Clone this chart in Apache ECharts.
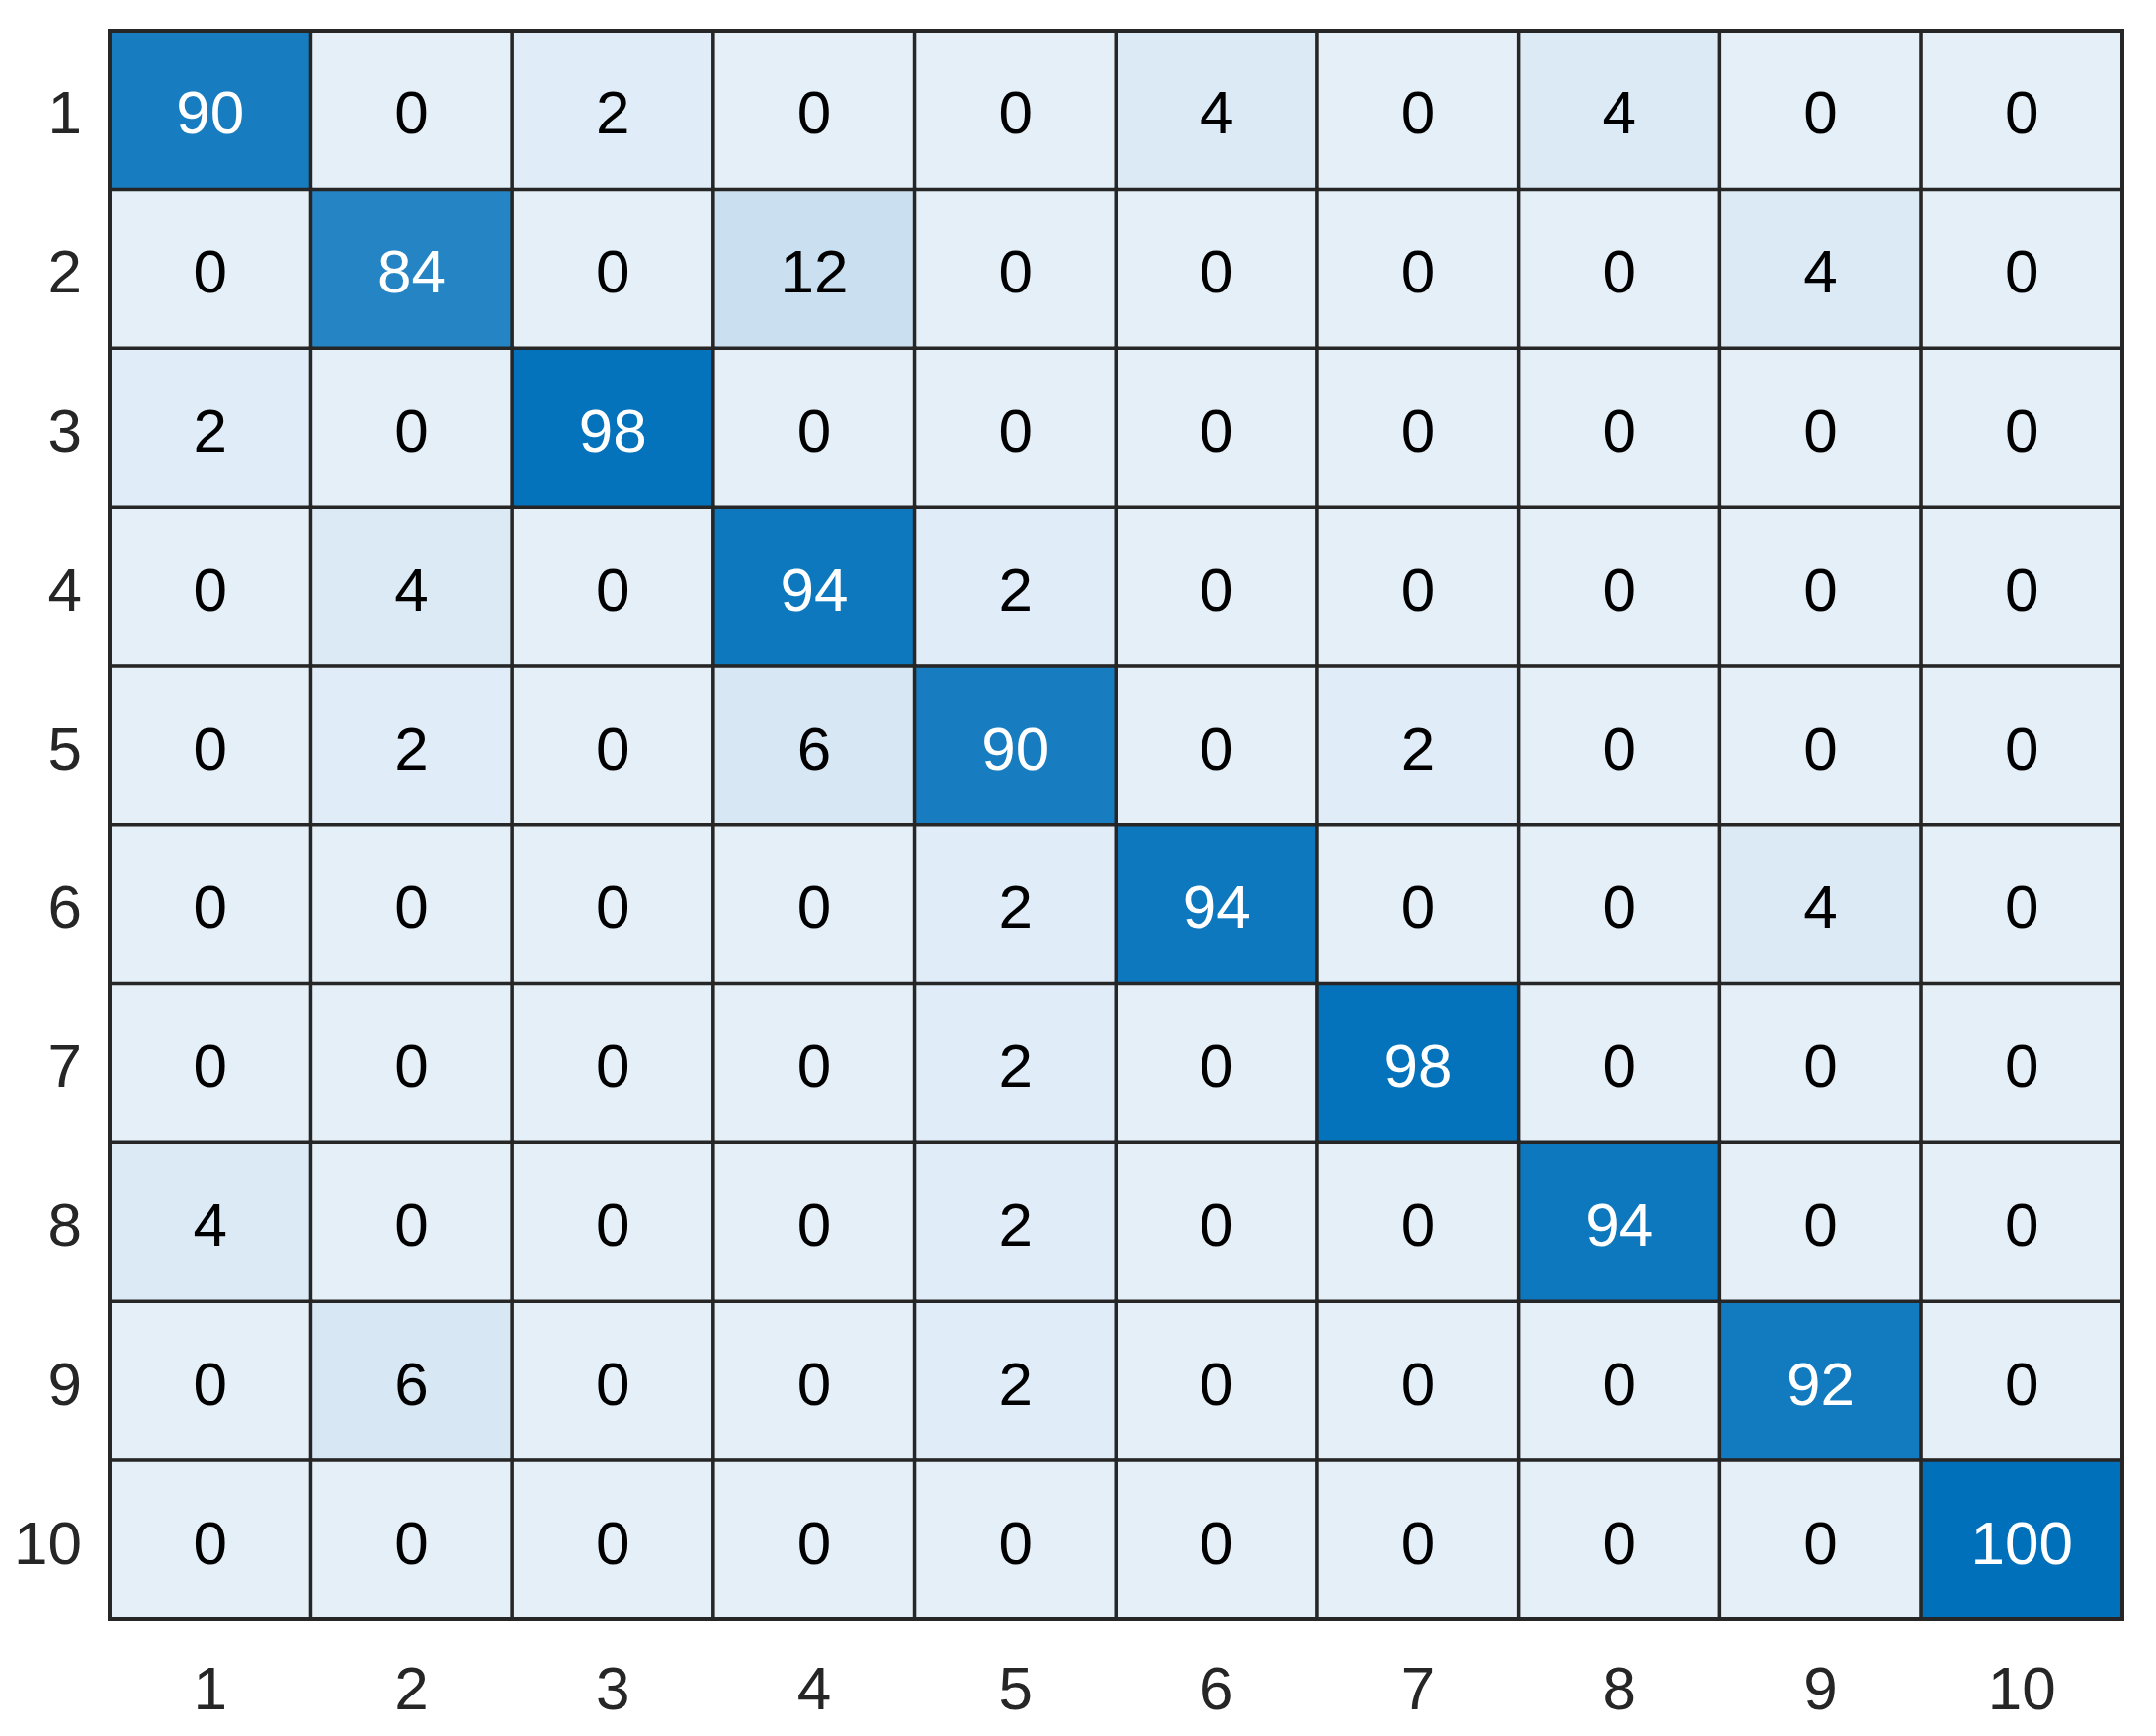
<!DOCTYPE html>
<html>
<head>
<meta charset="utf-8">
<script src="https://cdn.jsdelivr.net/npm/echarts@6/dist/echarts.min.js"></script>
<style>
html,body{margin:0;padding:0;background:#fff;}
#chart{width:2182px;height:1757px;}
</style>
</head>
<body>
<div id="chart"></div>
<script>
const xLabels = ['1','2','3','4','5','6','7','8','9','10'];
const yLabels = ['1','2','3','4','5','6','7','8','9','10'];
const row1  = [90, 0, 2, 0, 0, 4, 0, 4, 0, 0];
const row2  = [0, 84, 0, 12, 0, 0, 0, 0, 4, 0];
const row3  = [2, 0, 98, 0, 0, 0, 0, 0, 0, 0];
const row4  = [0, 4, 0, 94, 2, 0, 0, 0, 0, 0];
const row5  = [0, 2, 0, 6, 90, 0, 2, 0, 0, 0];
const row6  = [0, 0, 0, 0, 2, 94, 0, 0, 4, 0];
const row7  = [0, 0, 0, 0, 2, 0, 98, 0, 0, 0];
const row8  = [4, 0, 0, 0, 2, 0, 0, 94, 0, 0];
const row9  = [0, 6, 0, 0, 2, 0, 0, 0, 92, 0];
const row10 = [0, 0, 0, 0, 0, 0, 0, 0, 0, 100];
const rows = [row1,row2,row3,row4,row5,row6,row7,row8,row9,row10];

const data = [];
rows.forEach((r, yi) => r.forEach((v, xi) => {
  data.push({value: [xi, yi, v], label: {color: v > 50 ? '#ffffff' : '#000000'}});
}));

const FONT = '"Liberation Sans", Arial, sans-serif';
const chart = echarts.init(document.getElementById('chart'), null, {renderer: 'canvas'});
chart.setOption({
  backgroundColor: '#ffffff',
  animation: false,
  grid: {left: 111, top: 31, width: 2037, height: 1608, show: true, borderColor: '#262626', borderWidth: 4, backgroundColor: 'transparent', z: 10},
  xAxis: {
    type: 'category', data: xLabels, position: 'bottom',
    axisLine: {show: false}, axisTick: {show: false}, splitLine: {show: false},
    axisLabel: {fontFamily: FONT, fontSize: 62, color: '#262626', margin: 74, verticalAlign: 'middle'}
  },
  yAxis: {
    type: 'category', data: yLabels, inverse: true,
    axisLine: {show: false}, axisTick: {show: false}, splitLine: {show: false},
    axisLabel: {fontFamily: FONT, fontSize: 62, color: '#262626', margin: 28, verticalAlign: 'top', lineHeight: 14}
  },
  visualMap: {show: false, min: 0, max: 100, dimension: 2, inRange: {color: ['#E5EFF8', '#0070BA']}},
  series: [{
    type: 'heatmap',
    data: data,
    label: {show: true, fontFamily: FONT, fontSize: 62, offset: [0, 7]},
    itemStyle: {borderColor: '#262626', borderWidth: 3.5},
    emphasis: {disabled: true}
  }]
});
</script>
</body>
</html>
